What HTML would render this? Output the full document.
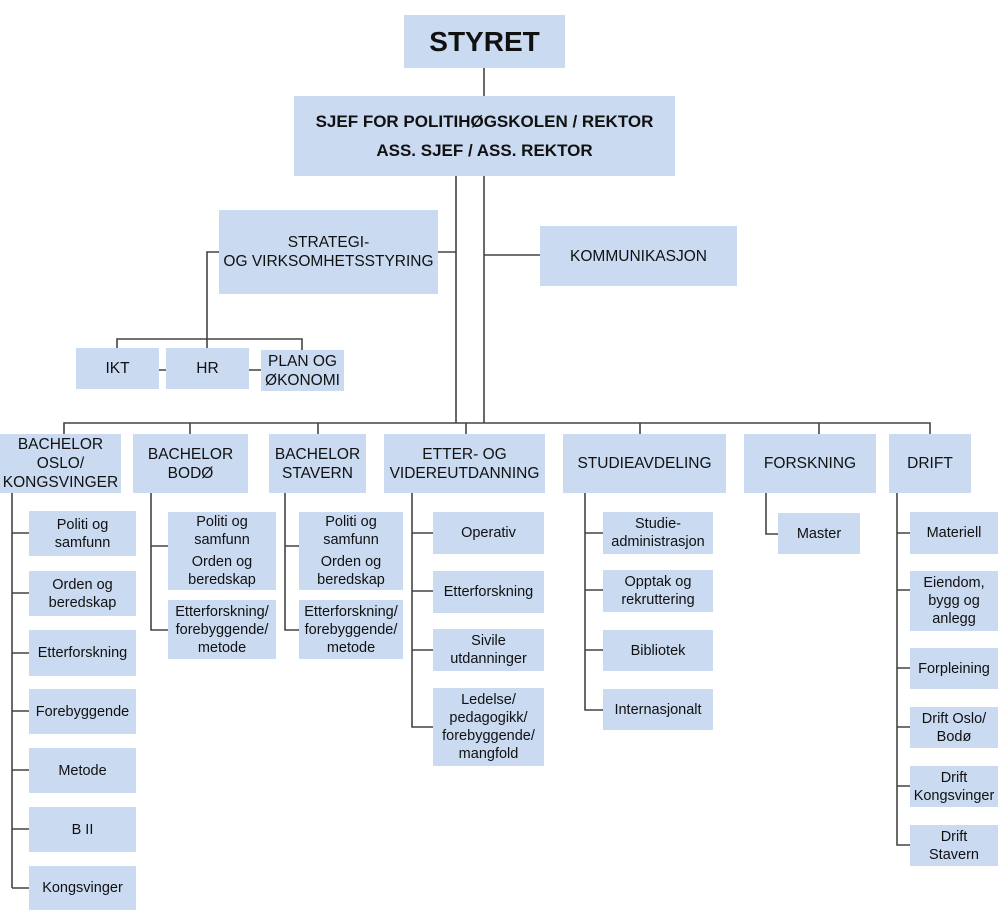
<!DOCTYPE html>
<html><head><meta charset="utf-8"><style>
body{margin:0;width:1000px;height:923px;background:#fff;position:relative;overflow:hidden;font-family:"Liberation Sans",Arial,sans-serif;color:#111}
.b{position:absolute;background:#c9daf1;display:flex;align-items:center;justify-content:center;text-align:center;font-size:14.5px;line-height:18px;box-sizing:border-box}
.c{flex-direction:column}
.c span{display:block}
.t{font-size:15.5px;line-height:19px}
svg{position:absolute;left:0;top:0}
</style></head><body>
<svg width="1000" height="923"><g stroke="#444" stroke-width="1.6" fill="none">
<path d="M484 68V423M456 176V423M438 252H456M484 255H540"/>
<path d="M219 252H207V348M117 348V339H302V350M159 370H166M249 370H261"/>
<path d="M64 434V423H930V434M190 423V434M318 423V434M466 423V434M640 423V434M819 423V434"/>
<path d="M12 492V888M12 533H29M12 593H29M12 653H29M12 711H29M12 770H29M12 829H29M12 888H29"/>
<path d="M151 492V630H168M151 546H168"/>
<path d="M285 492V630H299M285 546H299"/>
<path d="M412 492V727H433M412 533H433M412 591H433M412 650H433"/>
<path d="M585 492V710H603M585 533H603M585 590H603M585 650H603"/>
<path d="M766 492V534H778"/>
<path d="M897 492V845H910M897 533H910M897 590H910M897 668H910M897 727H910M897 786H910"/>
</g></svg>
<div class="b" style="left:404px;top:15px;width:161px;height:53px;font-size:28px;font-weight:bold">STYRET</div>
<div class="b" style="left:294px;top:96px;width:381px;height:80px;font-size:17px;font-weight:bold;line-height:29px">SJEF FOR POLITIHØGSKOLEN / REKTOR<br>ASS. SJEF / ASS. REKTOR</div>
<div class="b t" style="left:219px;top:210px;width:219px;height:84px">STRATEGI-<br>OG VIRKSOMHETSSTYRING</div>
<div class="b t" style="left:540px;top:226px;width:197px;height:60px">KOMMUNIKASJON</div>
<div class="b t" style="left:76px;top:348px;width:83px;height:41px">IKT</div>
<div class="b t" style="left:166px;top:348px;width:83px;height:41px">HR</div>
<div class="b t" style="left:261px;top:350px;width:83px;height:41px">PLAN OG<br>ØKONOMI</div>
<div class="b t" style="left:0;top:434px;width:121px;height:59px">BACHELOR<br>OSLO/<br>KONGSVINGER</div>
<div class="b t" style="left:133px;top:434px;width:115px;height:59px">BACHELOR<br>BODØ</div>
<div class="b t" style="left:269px;top:434px;width:97px;height:59px">BACHELOR<br>STAVERN</div>
<div class="b t" style="left:384px;top:434px;width:161px;height:59px">ETTER- OG<br>VIDEREUTDANNING</div>
<div class="b t" style="left:563px;top:434px;width:163px;height:59px">STUDIEAVDELING</div>
<div class="b t" style="left:744px;top:434px;width:132px;height:59px">FORSKNING</div>
<div class="b t" style="left:889px;top:434px;width:82px;height:59px">DRIFT</div>
<div class="b" style="left:29px;top:511px;width:107px;height:45px">Politi og<br>samfunn</div>
<div class="b" style="left:29px;top:571px;width:107px;height:45px">Orden og<br>beredskap</div>
<div class="b" style="left:29px;top:630px;width:107px;height:46px">Etterforskning</div>
<div class="b" style="left:29px;top:689px;width:107px;height:45px">Forebyggende</div>
<div class="b" style="left:29px;top:748px;width:107px;height:45px">Metode</div>
<div class="b" style="left:29px;top:807px;width:107px;height:45px">B II</div>
<div class="b" style="left:29px;top:866px;width:107px;height:44px">Kongsvinger</div>
<div class="b c" style="left:168px;top:512px;width:108px;height:78px"><span>Politi og<br>samfunn</span><span style="margin-top:4px">Orden og<br>beredskap</span></div>
<div class="b" style="left:168px;top:600px;width:108px;height:59px">Etterforskning/<br>forebyggende/<br>metode</div>
<div class="b c" style="left:299px;top:512px;width:104px;height:78px"><span>Politi og<br>samfunn</span><span style="margin-top:4px">Orden og<br>beredskap</span></div>
<div class="b" style="left:299px;top:600px;width:104px;height:59px">Etterforskning/<br>forebyggende/<br>metode</div>
<div class="b" style="left:433px;top:512px;width:111px;height:42px">Operativ</div>
<div class="b" style="left:433px;top:571px;width:111px;height:42px">Etterforskning</div>
<div class="b" style="left:433px;top:629px;width:111px;height:42px">Sivile<br>utdanninger</div>
<div class="b" style="left:433px;top:688px;width:111px;height:78px">Ledelse/<br>pedagogikk/<br>forebyggende/<br>mangfold</div>
<div class="b" style="left:603px;top:512px;width:110px;height:42px">Studie-<br>administrasjon</div>
<div class="b" style="left:603px;top:570px;width:110px;height:42px">Opptak og<br>rekruttering</div>
<div class="b" style="left:603px;top:630px;width:110px;height:41px">Bibliotek</div>
<div class="b" style="left:603px;top:689px;width:110px;height:41px">Internasjonalt</div>
<div class="b" style="left:778px;top:513px;width:82px;height:41px">Master</div>
<div class="b" style="left:910px;top:512px;width:88px;height:42px">Materiell</div>
<div class="b" style="left:910px;top:571px;width:88px;height:60px">Eiendom,<br>bygg og<br>anlegg</div>
<div class="b" style="left:910px;top:648px;width:88px;height:41px">Forpleining</div>
<div class="b" style="left:910px;top:707px;width:88px;height:41px">Drift Oslo/<br>Bodø</div>
<div class="b" style="left:910px;top:766px;width:88px;height:41px">Drift<br>Kongsvinger</div>
<div class="b" style="left:910px;top:825px;width:88px;height:41px">Drift<br>Stavern</div>
</body></html>
